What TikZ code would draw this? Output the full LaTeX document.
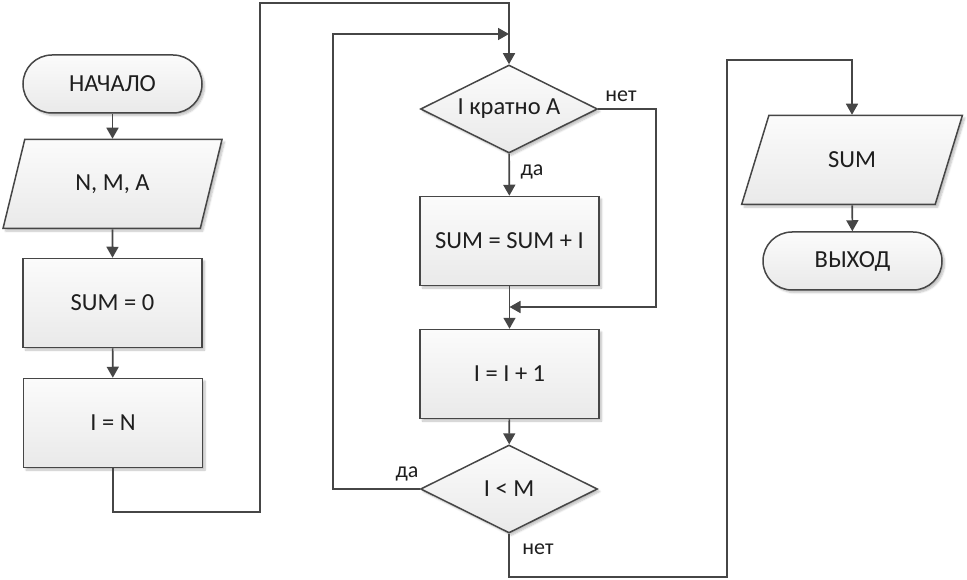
\documentclass[tikz,border=0pt]{standalone}
\usepackage{fontspec}
\setmainfont{Carlito}
\usetikzlibrary{shapes.geometric,arrows.meta,shadows.blur}
\definecolor{lc}{HTML}{464646}
\definecolor{tc}{HTML}{1E1E1E}
\begin{document}
\begin{tikzpicture}[x=1pt,y=-1pt,
  line/.style={draw=lc, line width=1.6pt},
  arr/.style={line, -{Triangle[width=12pt,length=11pt]}},
  blk/.style={draw=lc, line width=1.5pt, top color=gray!3, bottom color=gray!17,
    blur shadow={shadow xshift=2.5pt,shadow yshift=-2.5pt,shadow blur steps=6,shadow opacity=25},
    font=\fontsize{24.5}{28}\selectfont, text=tc, inner sep=0pt},
  proc/.style={blk, rectangle, minimum width=179pt, minimum height=89pt},
  term/.style={blk, rectangle, rounded corners=29pt, minimum width=179pt, minimum height=58pt},
  io/.style={blk, trapezium, trapezium left angle=64, trapezium right angle=116,
    trapezium stretches=true, minimum width=221pt, minimum height=89pt},
  dec/.style={blk, diamond, aspect=2, minimum width=177pt, minimum height=88pt},
  lbl/.style={font=\fontsize{22}{24}\selectfont, text=tc, inner sep=0pt}
]
\useasboundingbox (0,0) rectangle (967,580);

% left column
\node[term] (start) at (112.5,84) {НАЧАЛО};
\node[io]   (in)    at (112.5,184) {N, M, A};
\node[proc] (s0)    at (112.5,303) {SUM = 0};
\node[proc] (iN)    at (113,423) {I = N};

% middle column
\node[dec]  (d1)  at (509,109) {I кратно A};
\node[proc] (add) at (509.5,241) {SUM = SUM + I};
\node[proc] (inc) at (509.5,374) {I = I + 1};
\node[dec]  (d2)  at (509,489) {I < M};

% right column
\node[io]   (out) at (852,160) {SUM};
\node[term] (end) at (852.5,261) {ВЫХОД};

% helper coordinates
\coordinate (a1) at (260,512);
\coordinate (a2) at (509,3);
\coordinate (l1) at (333,34);
\coordinate (j1) at (509,34);
\coordinate (r1) at (656,307);
\coordinate (m1) at (509.5,307);
\coordinate (b1) at (727,577);
\coordinate (b2) at (852,60);

% connectors
\draw[arr] (start) -- (in);
\draw[arr] (in) -- (s0);
\draw[arr] (s0) -- (iN);
\draw[arr] (iN.south) |- (a1) |- (a2) -- (d1.north);
\draw[arr] (d2.west) -| (l1) -- (j1);
\draw[arr] (d1.east) -| (r1) -- (m1);
\draw[arr] (d1) -- (add);
\draw[arr] (add) -- (inc);
\draw[arr] (inc) -- (d2);
\draw[arr] (d2.south) |- (b1) |- (b2) -- (out.north);
\draw[arr] (out) -- (end);

% labels
\node[lbl] (l_net1) at (621,96) {нет};
\node[lbl] (l_da1)  at (532,172) {да};
\node[lbl] (l_da2)  at (407,474) {да};
\node[lbl] (l_net2) at (538,549) {нет};
\end{tikzpicture}
\end{document}
